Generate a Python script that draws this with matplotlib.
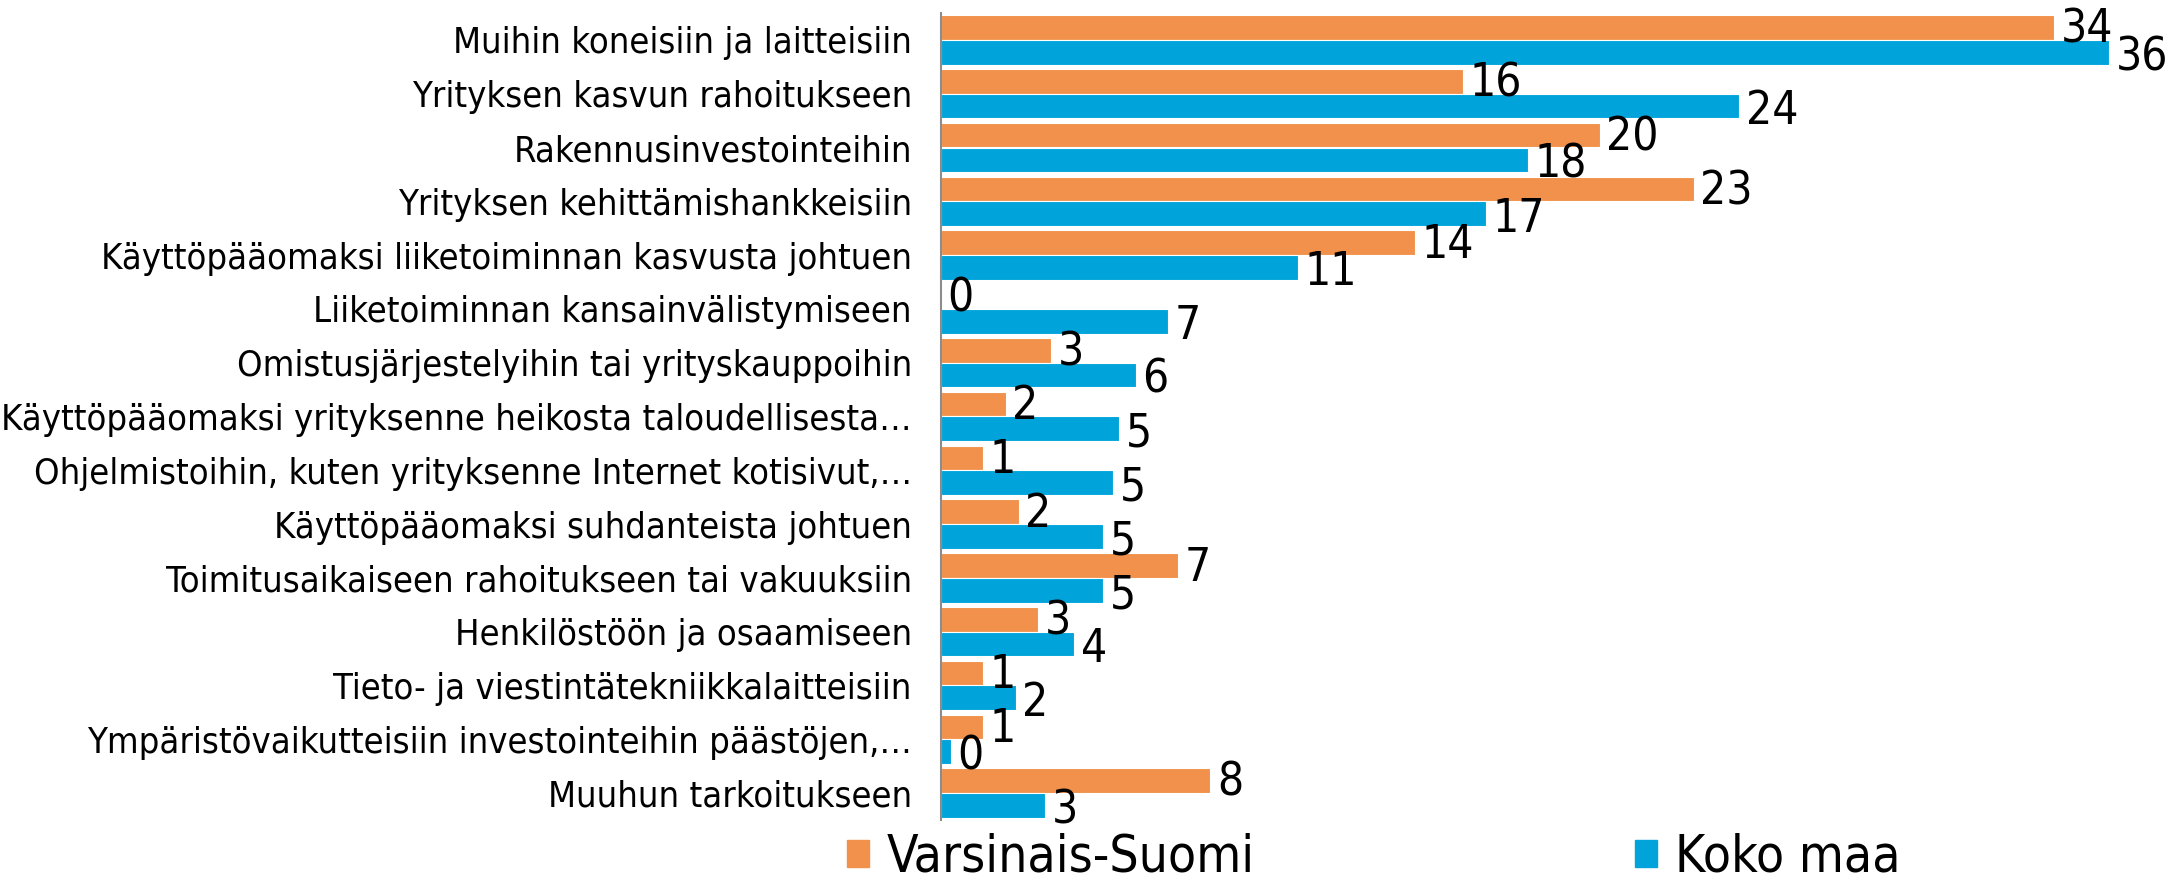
import numpy as np
import matplotlib.pyplot as plt
from matplotlib.patches import Patch

categories = [
    "Muihin koneisiin ja laitteisiin",
    "Yrityksen kasvun rahoitukseen",
    "Rakennusinvestointeihin",
    "Yrityksen kehittämishankkeisiin",
    "Käyttöpääomaksi liiketoiminnan kasvusta johtuen",
    "Liiketoiminnan kansainvälistymiseen",
    "Omistusjärjestelyihin tai yrityskauppoihin",
    "Käyttöpääomaksi yrityksenne heikosta taloudellisesta…",
    "Ohjelmistoihin, kuten yrityksenne Internet kotisivut,…",
    "Käyttöpääomaksi suhdanteista johtuen",
    "Toimitusaikaiseen rahoitukseen tai vakuuksiin",
    "Henkilöstöön ja osaamiseen",
    "Tieto- ja viestintätekniikkalaitteisiin",
    "Ympäristövaikutteisiin investointeihin päästöjen,…",
    "Muuhun tarkoitukseen",
]
series = ["Varsinais-Suomi", "Koko maa"]

# bar lengths (labels are the rounded values shown)
vs_values = [34.3, 16.1, 20.3, 23.2, 14.6, 0.0, 3.4, 2.0, 1.3, 2.4, 7.3, 3.0, 1.3, 1.3, 8.3]
km_values = [36.0, 24.6, 18.1, 16.8, 11.0, 7.0, 6.0, 5.5, 5.3, 5.0, 5.0, 4.1, 2.3, 0.3, 3.2]
vs_labels = [34, 16, 20, 23, 14, 0, 3, 2, 1, 2, 7, 3, 1, 1, 8]
km_labels = [36, 24, 18, 17, 11, 7, 6, 5, 5, 5, 5, 4, 2, 0, 3]

ORANGE = "#F1914B"
BLUE = "#00A3DA"

plt.rcParams["font.family"] = ["DejaVu Sans"]
plt.rcParams["font.stretch"] = "condensed"

fig = plt.figure(figsize=(21.74, 8.82), dpi=100)
ax = fig.add_axes([941 / 2174, 1 - 820 / 882, 1 - 941 / 2174, (820 - 13) / 882])

y = np.arange(len(categories))
h = 0.46
ax.barh(y - h / 2, vs_values, height=h, color=ORANGE, edgecolor="white", linewidth=0.8)
ax.barh(y + h / 2, km_values, height=h, color=BLUE, edgecolor="white", linewidth=0.8)

# value labels just right of each bar
for i in range(len(categories)):
    ax.text(vs_values[i] + 0.2, y[i] - h / 2 + 0.05, str(vs_labels[i]),
            va="center", ha="left", fontsize=33)
    ax.text(km_values[i] + 0.2, y[i] + h / 2 + 0.1, str(km_labels[i]),
            va="center", ha="left", fontsize=33)

ax.set_xlim(0, 38)
ax.set_ylim(len(categories) - 0.5, -0.5)
ax.set_yticks(y)
ax.set_yticklabels(categories, fontsize=26)
ax.tick_params(axis="y", length=0, pad=21)
ax.set_xticks([])
for s in ["top", "right", "bottom"]:
    ax.spines[s].set_visible(False)
ax.spines["left"].set_color("#8c8c8c")
ax.spines["left"].set_linewidth(1.5)

handles = [Patch(color=ORANGE), Patch(color=BLUE)]
fig.legend(handles, series, loc="center", bbox_to_anchor=(0.632, 1 - 858 / 882),
           ncol=2, frameon=False, fontsize=37, handlelength=0.42, handleheight=0.42,
           handletextpad=0.35, columnspacing=7.4)

fig.savefig("out.png", dpi=100)
